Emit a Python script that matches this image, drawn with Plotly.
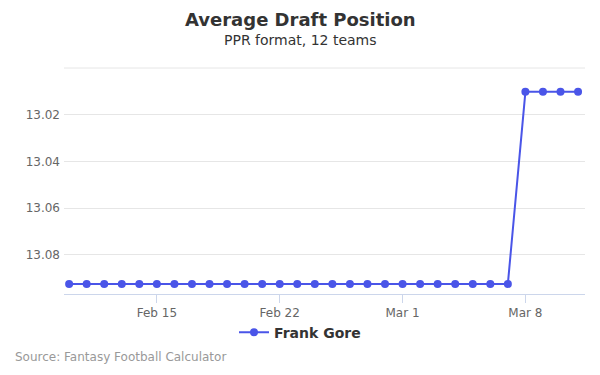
import plotly.graph_objects as go
import pandas as pd

dates = pd.date_range("2017-02-10", "2017-03-11", freq="D")
adp = [13.0925] * 26 + [13.0102] * 4
series_name = "Frank Gore"
y_ticks = [13.02, 13.04, 13.06, 13.08]
y_ticktext = ["13.02", "13.04", "13.06", "13.08"]
x_ticks = ["2017-02-15", "2017-02-22", "2017-03-01", "2017-03-08"]
x_ticktext = ["Feb 15", "Feb 22", "Mar 1", "Mar 8"]

color = "#4a55e8"
cx = (300 - 64) / 521

fig = go.Figure()
fig.add_trace(go.Scatter(
    x=dates, y=adp, mode="lines+markers", name="<b>" + series_name + "</b>",
    line=dict(color=color, width=2),
    marker=dict(color=color, size=8),
))

fig.update_layout(
    width=600, height=375,
    paper_bgcolor="white", plot_bgcolor="white",
    font=dict(family="DejaVu Sans", color="#666666", size=12),
    margin=dict(l=64, r=15, t=68, b=81, autoexpand=False),
    showlegend=True,
    legend=dict(orientation="h", x=cx, xanchor="center", y=-0.1, yanchor="top",
                font=dict(size=14, color="#333333", family="DejaVu Sans")),
    xaxis=dict(
        range=["2017-02-09 17:00", "2017-03-11 09:30"],
        tickvals=x_ticks, ticktext=x_ticktext,
        showgrid=False, showline=True, linecolor="#ccd6eb", linewidth=1,
        ticks="outside", tickcolor="#ccd6eb", ticklen=8,
        tickfont=dict(size=12, color="#666666"),
        zeroline=False, automargin=False,
    ),
    yaxis=dict(
        range=[13.0968, 13.0],
        tickvals=y_ticks, ticktext=y_ticktext,
        showgrid=True, gridcolor="#e6e6e6", gridwidth=1,
        showline=False, zeroline=False, ticks="", ticklen=0,
        ticklabelstandoff=3,
        tickfont=dict(size=12, color="#666666"),
        automargin=False,
    ),
    shapes=[dict(type="line", xref="paper", yref="paper", x0=0, x1=1, y0=1, y1=1,
                 line=dict(color="#e6e6e6", width=1), layer="below")],
    annotations=[
        dict(text="<b>Average Draft Position</b>", xref="paper", yref="paper",
             x=cx, y=1 + (68 - 19) / 226, xanchor="center", yanchor="middle",
             showarrow=False, font=dict(size=18, color="#333333")),
        dict(text="PPR format, 12 teams", xref="paper", yref="paper",
             x=cx, y=1 + (68 - 40) / 226, xanchor="center", yanchor="middle",
             showarrow=False, font=dict(size=14, color="#333333")),
        dict(text="Source: Fantasy Football Calculator", xref="paper", yref="paper",
             x=-51 / 521, y=-(357 - 294) / 226, xanchor="left", yanchor="middle",
             showarrow=False, font=dict(size=12, color="#999999")),
    ],
)
fig.write_html("out.html", config={"displayModeBar": False},
               post_script="document.body.style.margin='0';document.body.style.padding='0';")
